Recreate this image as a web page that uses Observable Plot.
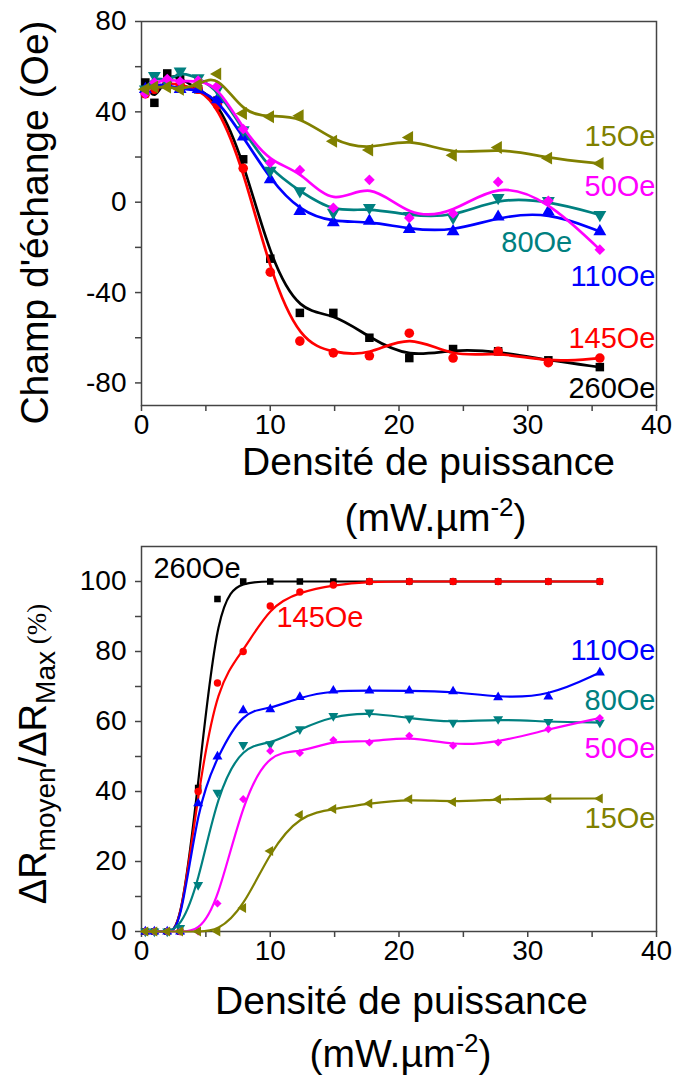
<!DOCTYPE html>
<html>
<head>
<meta charset="utf-8">
<script src="https://cdn.jsdelivr.net/npm/d3@7"></script>
<script src="https://cdn.jsdelivr.net/npm/@observablehq/plot@0.6"></script>
<style>
  html, body { margin: 0; padding: 0; background: white; }
  #c svg { display: block; }
</style>
</head>
<body>
<div id="c"></div>
<script>
// ---------- data ----------
const xPower = [0.3, 1.0, 2.0, 3.0, 4.4, 5.9, 7.9, 10.0, 12.3, 14.9, 17.7, 20.8, 24.2, 27.7, 31.6, 35.6];

const seriesNames = ["260Oe", "145Oe", "110Oe", "80Oe", "50Oe", "15Oe"];

// Exchange field (Oe)
const hex260 = [53, 44, 57, 55, 50, 45, 19, -25, -49, -49, -60, -69, -65, -66, -70, -73];
const hex145 = [48, 50, 53, 52, 50, 43, 15, -31, -61.5, -66.7, -68, -58, -69, -66, -71, -69];
const hex110 = [50, 52, 52, 50, 50, 45.5, 29, 10, -4, -9, -8.3, -12, -13, -6.5, -4.2, -13];
const hex80  = [50, 56, 53, 58, 55, 50, 32, 14, 5, -4.6, -2.4, -6, -6.8, 2, 0.6, -5.6];
const hex50  = [48, 53, 54.5, 53.4, 53.8, 51.6, 32.4, 17.5, 14.2, -2.5, 9.9, -7, -5, 9, 0.6, -21];
const hex15  = [50, 51, 51, 50, 52, 56.8, 39.3, 37.8, 38.3, 27, 23.1, 28.7, 20.8, 24.2, 19.5, 17.1];

// ΔR moyen / ΔR max (%)
const dr260 = [0, 0, 0, 0, 41, 95, 100, 100, 100, 100, 100, 100, 100, 100, 100, 100];
const dr145 = [0, 0, 0, 0, 40, 71, 80, 93, 97, 99, 100, 100, 100, 100, 100, 100];
const dr110 = [0, 0, 0, 0, 36.6, 50, 63.2, 63.5, 67, 68.8, 68.8, 68.8, 68.6, 66.9, 67.1, 74];
const dr80  = [0, 0, 0, 1, 13.3, 39.7, 53.3, 53.5, 57.8, 61.6, 62.6, 60.9, 59.7, 60.7, 59.9, 59.7];
const dr50  = [0, 0, 0, 0, 0, 8, 37.8, 51.6, 51, 54.7, 54, 55.9, 53.1, 54, 57.8, 61];
const dr15  = [0, 0, 0, 0, 0, 0, 6.7, 23, 33.3, 35, 36.6, 37.8, 37, 37.8, 38, 38];

const xTicks = [0, 5, 10, 15, 20, 25, 30, 35, 40];
const yTicksTop = [-80, -60, -40, -20, 0, 20, 40, 60, 80];
const yTicksBot = [0, 10, 20, 30, 40, 50, 60, 70, 80, 90, 100];

// label anchors (data units)
const topLabelText = ["15Oe", "50Oe", "80Oe", "110Oe", "145Oe", "260Oe"];
const topLabelX = [40, 40, 30.7, 40, 40, 40];
const topLabelY = [29, 6.8, -18, -33.1, -60.6, -82.4];
const botLabelText = ["260Oe", "145Oe", "110Oe", "80Oe", "50Oe", "15Oe"];
const botLabelX = [4.31, 13.86, 40, 40, 40, 40];
const botLabelY = [103.6, 89.6, 80.2, 65.9, 52.2, 32.2];

const xTitle = "Densité de puissance";
const xUnit = "(mW.µm-2)";
const yTitleTop = "Champ d'échange (Oe)";
const yTitleBot = "ΔRmoyen/ΔRMax (%)";

// ---------- styles ----------
const FONT = "'Liberation Sans', Arial, Helvetica, sans-serif";
const style = {
  "260Oe": {color: "#000000", symbol: "square", rotate: 0},
  "145Oe": {color: "#ff0000", symbol: "circle", rotate: 0},
  "110Oe": {color: "#0000ff", symbol: "triangle", rotate: 0},
  "80Oe":  {color: "#008080", symbol: "triangle", rotate: 180},
  "50Oe":  {color: "#ff00ff", symbol: "diamond2", rotate: 0},
  "15Oe":  {color: "#808000", symbol: "triangle", rotate: -90}
};
const topVals = {"260Oe": hex260, "145Oe": hex145, "110Oe": hex110, "80Oe": hex80, "50Oe": hex50, "15Oe": hex15};
const botVals = {"260Oe": dr260, "145Oe": dr145, "110Oe": dr110, "80Oe": dr80, "50Oe": dr50, "15Oe": dr15};

function seriesMarks(vals, r, sw) {
  const marks = [];
  for (const name of seriesNames) {
    const s = style[name];
    const rows = xPower.map((x, i) => ({x, y: vals[name][i]}));
    marks.push(Plot.line(rows, {x: "x", y: "y", stroke: s.color, strokeWidth: sw, curve: "basis"}));
    marks.push(Plot.dot(rows, {x: "x", y: "y", symbol: s.symbol, fill: s.color, stroke: "none", r: r, rotate: s.rotate}));
  }
  return marks;
}

function labelMarks(texts, xs, ys) {
  return texts.map((t, i) => Plot.text([t], {
    x: () => xs[i], y: () => ys[i], text: d => d,
    fill: style[t].color, fontSize: 29, lineAnchor: "middle",
    textAnchor: xs[i] >= 40 ? "end" : "middle", dx: xs[i] >= 40 ? -1 : 0
  }));
}

function axes(yTicks, yFmt) {
  return [
    Plot.axisX({ticks: xTicks, tickFormat: d => d % 10 === 0 ? String(d) : "", tickSize: 6, tickPadding: 3,
      fontSize: 28, stroke: "#444", strokeWidth: 1.5, fill: "black", label: null}),
    Plot.axisY({ticks: yTicks, tickFormat: yFmt, tickSize: 6, tickPadding: 9,
      fontSize: 28, stroke: "#444", strokeWidth: 1.5, fill: "black", label: null}),
    Plot.frame({stroke: "#444", strokeWidth: 1.5})
  ];
}

function title(txt, opts) {
  return Plot.text([txt], {textAnchor: "middle", lineAnchor: "middle", fill: "black", ...opts});
}

function richText(svg, key, parts) {
  d3.select(svg).selectAll("text").filter(function () { return this.textContent === key; }).each(function () {
    const t = d3.select(this);
    t.text(null);
    for (const p of parts) {
      const s = t.append("tspan").text(p.text);
      if (p.size) s.attr("font-size", p.size);
      if (p.dy) s.attr("dy", p.dy);
      if (p.family) s.attr("font-family", p.family);
    }
  });
}

// ---------- top chart ----------
const chartTop = Plot.plot({
  width: 676, height: 540,
  marginLeft: 141, marginRight: 20, marginTop: 21, marginBottom: 135,
  style: {fontFamily: FONT, background: "white", overflow: "visible"},
  x: {domain: [0, 40]},
  y: {domain: [-90, 80]},
  marks: [
    ...axes(yTicksTop, d => d % 40 === 0 ? String(d) : ""),
    ...seriesMarks(topVals, 4.8, 2.7),
    ...labelMarks(topLabelText, topLabelX, topLabelY),
    title(xTitle, {frameAnchor: "bottom", dx: 29.5, dy: 57.5, fontSize: 39}),
    title(xUnit, {frameAnchor: "bottom", dx: 36.5, dy: 113, fontSize: 39}),
    title(yTitleTop, {frameAnchor: "left", rotate: -90, dx: -105.5, dy: 9, fontSize: 39})
  ]
});

// ---------- bottom chart ----------
const chartBot = Plot.plot({
  width: 676, height: 537,
  marginLeft: 141, marginRight: 20, marginTop: 6, marginBottom: 146,
  style: {fontFamily: FONT, background: "white", overflow: "visible"},
  x: {domain: [0, 40]},
  y: {domain: [0, 110]},
  marks: [
    ...axes(yTicksBot, d => d % 20 === 0 ? String(d) : ""),
    ...seriesMarks(botVals, 3.7, 2.2),
    ...labelMarks(botLabelText, botLabelX, botLabelY),
    title(xTitle, {frameAnchor: "bottom", dx: 2.5, dy: 69.8, fontSize: 39}),
    title(xUnit, {frameAnchor: "bottom", dx: 1.5, dy: 122.8, fontSize: 39}),
    title(yTitleBot, {frameAnchor: "left", rotate: -90, dx: -108, dy: 15, fontSize: 38})
  ]
});

const unitParts = [{text: "(mW.µm"}, {text: "-2", size: 26, dy: -15}, {text: ")", dy: 15}];
richText(chartTop, xUnit, unitParts);
richText(chartBot, xUnit, unitParts);
richText(chartBot, yTitleBot, [
  {text: "ΔR"},
  {text: "moyen", size: 28, dy: 9},
  {text: "/ΔR", dy: -9},
  {text: "Max", size: 28, dy: 9},
  {text: " (%)", size: 27, dy: -9, family: "'Liberation Serif', 'Times New Roman', serif"}
]);

document.getElementById("c").append(chartTop, chartBot);
</script>
</body>
</html>
